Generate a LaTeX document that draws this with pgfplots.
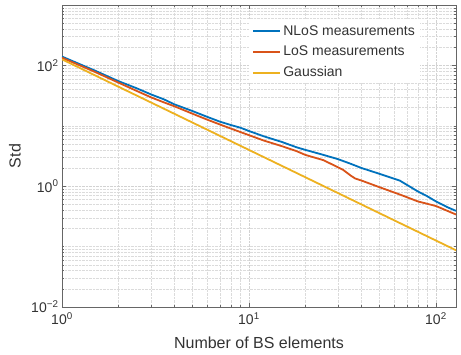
\documentclass[border=0pt]{standalone}
\usepackage{pgfplots}
\pgfplotsset{compat=1.18}
\usepackage{fontspec}
\setmainfont{Liberation Sans}
\definecolor{mblue}{rgb}{0,0.447,0.741}
\definecolor{mred}{rgb}{0.85,0.325,0.098}
\definecolor{myellow}{rgb}{0.929,0.694,0.125}
\definecolor{axgray}{rgb}{0.4,0.4,0.4}
\begin{document}
\begin{tikzpicture}
\begin{axis}[
  xmode=log, ymode=log,
  scale only axis, width=394pt, height=302pt,
  xmin=1, xmax=128, ymin=1e-2, ymax=1e3,
  xtick={1,10,100}, ytick={1e-2,1,1e2},
  xticklabels={10\textsuperscript{0},10\textsuperscript{1},10\textsuperscript{2}},
  yticklabels={10\textsuperscript{−2},10\textsuperscript{0},10\textsuperscript{2}},
  minor xtick={2,3,4,5,6,7,8,9,20,30,40,50,60,70,80,90},
  minor ytick={0.02,0.03,0.04,0.05,0.06,0.07,0.08,0.09,0.1,0.2,0.3,0.4,0.5,0.6,0.7,0.8,0.9,2,3,4,5,6,7,8,9,10,20,30,40,50,60,70,80,90,200,300,400,500,600,700,800,900},
  grid=both,
  major grid style={densely dotted, gray!35, line width=0.5pt},
  minor grid style={densely dotted, gray!28, line width=0.4pt},
  tick align=inside,
  major tick length=4pt, minor tick length=2pt,
  axis line style={axgray, line width=0.7pt},
  every tick/.style={axgray},
  tick label style={font=\fontsize{14}{16}\selectfont, text=black!80},
  xticklabel style={yshift=-2pt},
  xlabel={Number of BS elements}, ylabel={Std},
  every axis x label/.style={at={([yshift=-36pt]axis description cs:0.5,0)}, anchor=center, font=\fontsize{16}{18}\selectfont, text=black!80},
  every axis y label/.style={at={([xshift=-47pt]axis description cs:0,0.5)}, anchor=center, rotate=90, font=\fontsize{16}{18}\selectfont, text=black!80},
  legend style={at={(0.475,0.95)}, anchor=north west, draw=none, fill=white,
    font=\fontsize{14}{16}\selectfont, text=black!80, row sep=5.5pt, inner sep=3pt},
  legend cell align=left,
  legend image code/.code={\draw[#1, line width=2pt] (0pt,0pt) -- (27pt,0pt);},
]
\addplot[mblue, line width=1.8pt] coordinates {
(1,140) (1.5,82) (2,55) (2.5,42) (3,33) (3.5,27.5) (4,22.6) (5,17.5) (6,14) (7,11.7) (8,10.3) (9,9.3) (10,8.2) (12,6.7) (15,5.4) (18,4.4) (20,4.0) (25,3.3) (30,2.8) (35,2.35) (40,2.0) (50,1.6) (64,1.24) (70,1.05) (80,0.82) (90,0.68) (100,0.56) (115,0.45) (128,0.39)
};
\addlegendentry{NLoS measurements}
\addplot[mred, line width=1.8pt] coordinates {
(1,134) (1.5,78) (2,52) (2.5,38) (3,29.5) (3.5,24.5) (4,21) (5,15.8) (6,12.6) (7,10.5) (8,9.0) (10,7.0) (12,5.7) (15,4.6) (18,3.8) (20,3.3) (25,2.7) (30,2.05) (32,1.85) (35,1.5) (37,1.34) (40,1.24) (50,0.96) (64,0.73) (80,0.56) (100,0.47) (128,0.34)
};
\addlegendentry{LoS measurements}
\addplot[myellow, line width=1.8pt] coordinates {
(1,126) (2,44.5) (4,15.75) (8,5.57) (16,1.97) (32,0.696) (64,0.246) (128,0.087)
};
\addlegendentry{Gaussian}
\end{axis}
\pgfresetboundingbox
\path[use as bounding box] ([xshift=-62pt,yshift=-47pt]current axis.south west) rectangle ([xshift=5pt,yshift=5pt]current axis.north east);
\end{tikzpicture}
\end{document}
